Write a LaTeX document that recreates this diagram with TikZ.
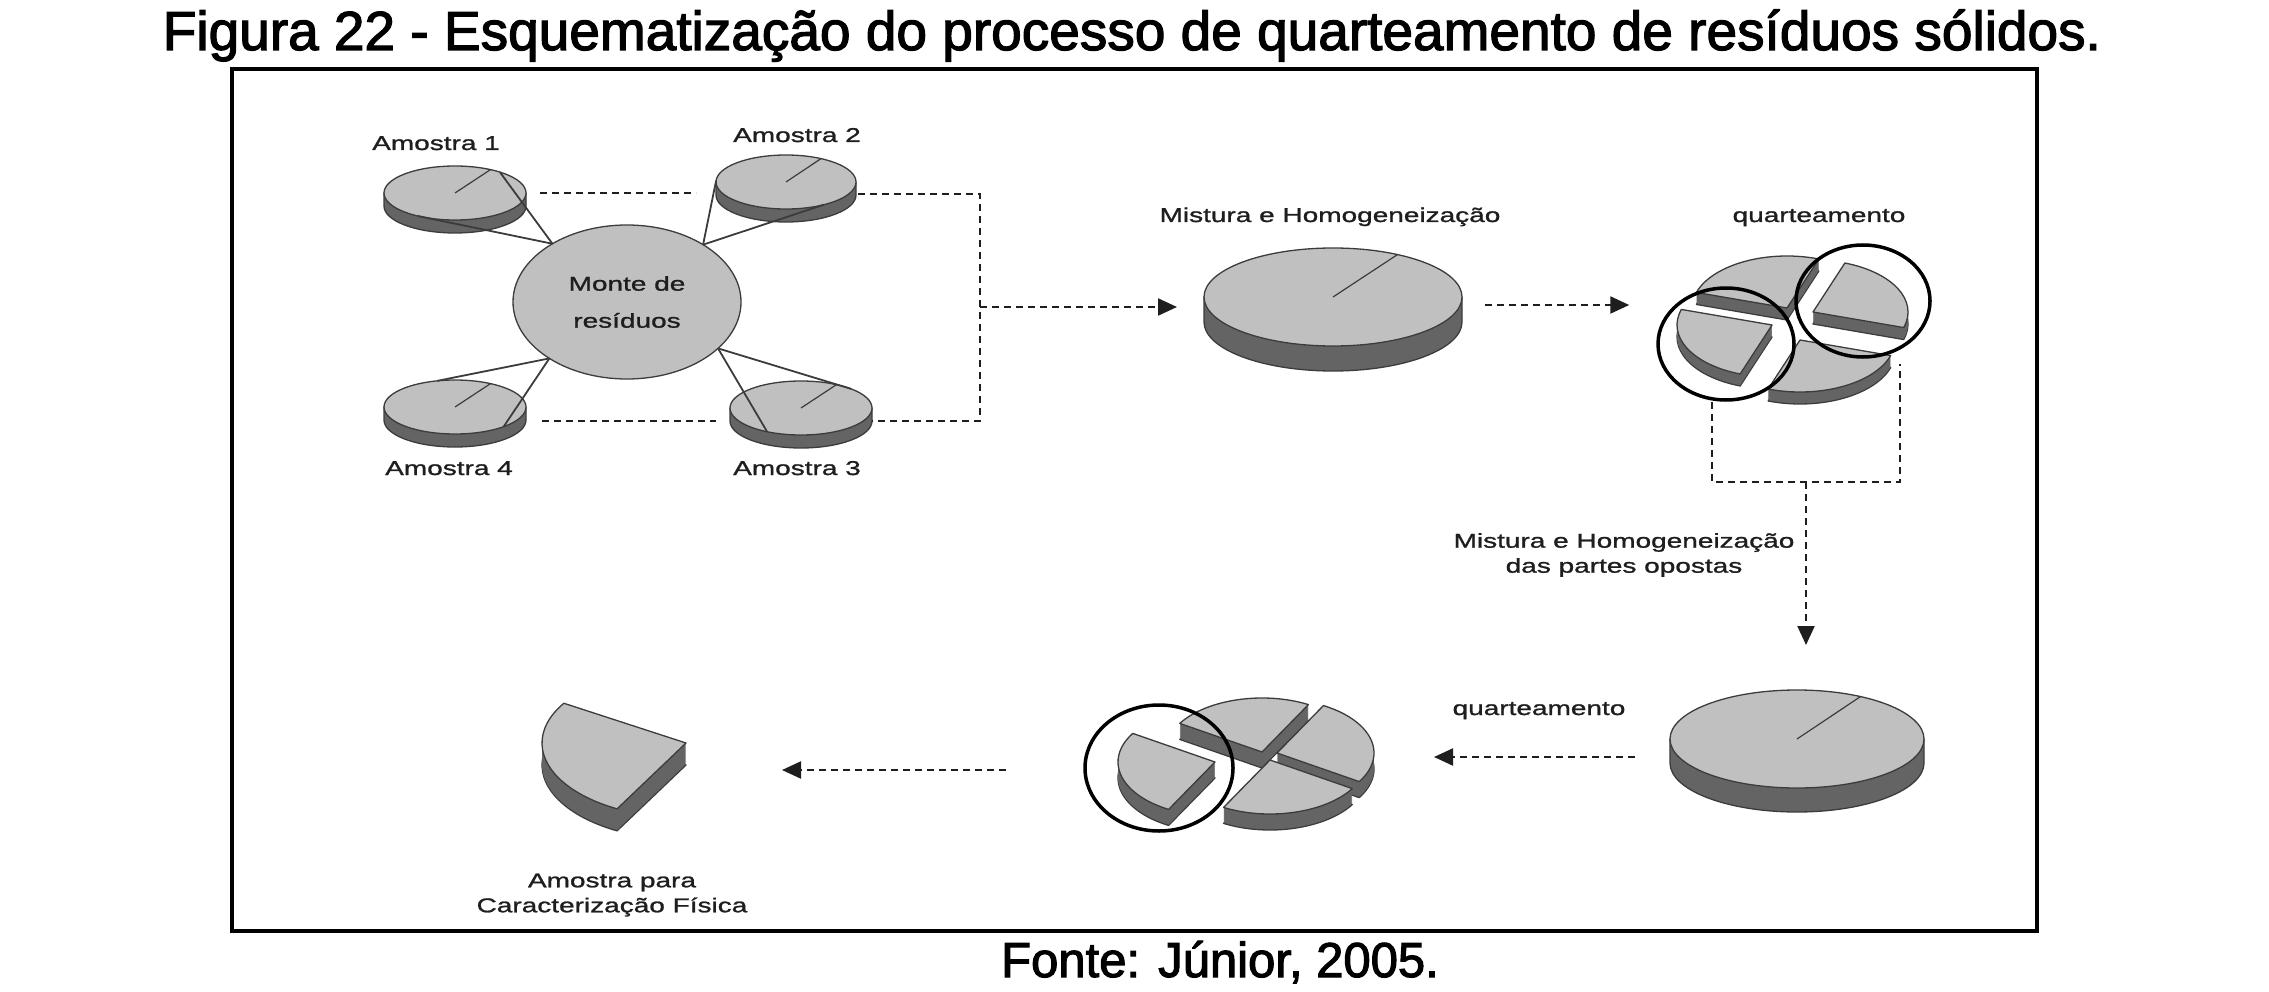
\documentclass[tikz,border=0pt]{standalone}
\usepackage{fontspec}
\setmainfont{Liberation Sans}
\newfontfamily\titlefont[FakeBold=2.2]{Liberation Sans}
\newfontfamily\diagfont[FakeStretch=1.4,FakeBold=1.2]{Liberation Sans}
\usetikzlibrary{shapes.geometric,calc,arrows.meta}

\definecolor{topgray}{RGB}{192,192,192}
\definecolor{sidegray}{RGB}{100,100,100}
\definecolor{edgegray}{RGB}{60,60,60}
\definecolor{inkgray}{RGB}{30,30,30}

\tikzset{
  disctop/.style={ellipse,fill=topgray,draw=edgegray,line width=1.3pt,inner sep=0pt,outer sep=0pt},
  topface/.style={fill=topgray,draw=edgegray,line width=1.3pt,line join=round},
  discside/.style={fill=sidegray,draw=edgegray,line width=1.3pt,line join=round},
  cone/.style={edgegray,line width=1.8pt},
  flow/.style={inkgray,line width=2.2pt,dash pattern=on 7pt off 5pt},
  flowarrow/.style={flow,-{Triangle[length=19pt,width=17pt]}},
  pick/.style={ellipse,draw=black,line width=3.5pt,inner sep=0pt},
  lbl/.style={font=\diagfont\fontsize{20}{25}\selectfont,text=inkgray,inner sep=0pt,anchor=base},
}

% cylinder: name, centre, x radius, y radius, depth
\newcommand\discpie[5]{%
  \coordinate (#1c) at (#2);
  \filldraw[discside] ($(#1c)+(-#3,0)$) -- ++(0,#5)
    arc[start angle=180,end angle=0,x radius=#3,y radius=#4] -- ++(0,-#5) -- cycle;
  \node[disctop,minimum width=2*#3,minimum height=2*#4] (#1) at (#1c) {};
  \draw[edgegray,line width=1.2pt] (#1c) -- ($(#1c)+(-60:#3 and #4)$);
}

% quarter of a pie: corner, start, end, x radius, y radius, depth
\newcommand\quarterpiece[6]{%
  \filldraw[discside] ($(#1)+(0,#6)$) -- ++(#2:#4 and #5)
    arc[start angle=#2,end angle=#3,x radius=#4,y radius=#5] -- cycle;
  \foreach \d in {1,...,#6}
    \fill[sidegray] ($(#1)+(0,{\d-1})$) -- ++(#2:#4 and #5)
      arc[start angle=#2,end angle=#3,x radius=#4,y radius=#5] -- cycle;
  \filldraw[topface] (#1) -- ++(#2:#4 and #5)
    arc[start angle=#2,end angle=#3,x radius=#4,y radius=#5] -- cycle;
}

\begin{document}
\begin{tikzpicture}[x=1pt,y=-1pt]
\useasboundingbox (0,0) rectangle (2269,992);

\node[anchor=base,inner sep=0pt,font=\titlefont\fontsize{55}{60}\selectfont] (title) at (1132,50)
  {Figura 22 - Esquematização do processo de quarteamento de resíduos sólidos.};
\draw[line width=4pt] (232,69) rectangle (2037,931);
\node[anchor=base,inner sep=0pt,font=\titlefont\fontsize{49}{55}\selectfont] (fonte) at (1220,977)
  {Fonte: Júnior, 2005.};

% samples round the heap
\discpie{d1}{455,193}{71}{27}{13}
\discpie{d2}{786,182}{70}{27}{13}
\discpie{d3}{801,408}{71}{27}{13}
\discpie{d4}{455,407}{71}{27}{13}
\node[disctop,minimum width=228,minimum height=154,align=center,text=inkgray,
  font=\diagfont\fontsize{20}{37}\selectfont] (monte) at (627,302) {Monte de\\resíduos};

\draw[cone] (monte.142) -- (d1.25);  \draw[cone] (monte.142) -- (d1.212);
\draw[cone] (monte.37) -- (d2.179);  \draw[cone] (monte.37) -- (d2.-31);
\draw[cone] (monte.-27) -- (d3.-145); \draw[cone] (monte.-27) -- (d3.21);
\draw[cone] (monte.216) -- (d4.124); \draw[cone] (monte.216) -- (d4.-22);

\node[lbl] (l1) at (436,150) {Amostra 1};
\node[lbl] (l2) at (797,142) {Amostra 2};
\node[lbl] (l3) at (797,475) {Amostra 3};
\node[lbl] (l4) at (449,475) {Amostra 4};

% mixed heaps
\discpie{mix1}{1333,297}{129}{49}{25}
\discpie{mix2}{1797,739}{127}{49}{24}
\node[lbl] (lmix1) at (1330,222) {Mistura e Homogeneização};

% first quartering
\quarterpiece{1787,308}{197.4}{289.6}{95}{52}{12}
\quarterpiece{1813,312}{289.6}{377.4}{95}{52}{12}
\quarterpiece{1800,340}{17.4}{109.6}{95}{52}{12}
\quarterpiece{1772,325}{109.6}{197.4}{95}{52}{12}
\node[pick,minimum width=136,minimum height=112] (sel1) at (1726,344) {};
\node[pick,minimum width=134,minimum height=112] (sel2) at (1863,301) {};
\node[lbl] (lq1) at (1819,222) {quarteamento};

% second quartering
\quarterpiece{1262,752}{212}{298.6}{97}{54}{16}
\quarterpiece{1277,753}{298.6}{392}{97}{54}{16}
\quarterpiece{1215,762}{118.6}{212}{97}{54}{16}
\quarterpiece{1270,760}{32}{118.6}{97}{54}{16}
\node[pick,minimum width=148,minimum height=126] (sel3) at (1159,768) {};
\node[lbl] (lq2) at (1539,715) {quarteamento};

% final sample
\quarterpiece{686,743}{118.6}{212}{144}{75}{22}
\node[lbl,anchor=center,align=center] (lfinal) at (612,895) {Amostra para\\Caracterização Física};

% flows
\coordinate (jt) at (980,194);
\coordinate (jm) at (980,307);
\coordinate (jb) at (980,421);
\draw[flow] ($(d1.east)+(14,0)$) -- ($(d2.west |- d1.east)+(-20,0)$);
\draw[flow] ($(d2.east |- jt)+(2,0)$) -- (jt) -- (jb) -- (d3.east |- jb);
\draw[flow] ($(d4.east |- jb)+(16,0)$) -- ($(d3.west |- jb)+(-14,0)$);
\draw[flowarrow] (jm) -- ($(mix1.west |- jm)+(-27,0)$);
\draw[flowarrow] ($(mix1.east)+(23,8)$) -- ($(sel1.west |- mix1.east)+(-27,8)$);

\coordinate (bl) at (1712,482);
\coordinate (br) at (1900,482);
\coordinate (bm) at (1806,482);
\draw[flow] (bl |- sel1.south) -- (bl) -- (br) -- ($(br |- sel2.south)+(0,5)$);
\draw[flowarrow] (bm) -- ($(bm |- mix2.north)+(0,-45)$);
\node[lbl,anchor=center,align=center] (lmix2) at (1624,555) {Mistura e Homogeneização\\das partes opostas};

\coordinate (qa) at (1434,757);
\draw[flowarrow] ($(mix2.west)+(-35,18)$) -- (qa);
\coordinate (fa) at (782,770);
\draw[flowarrow] ($(sel3.west)+(-77,2)$) -- (fa);
\end{tikzpicture}
\end{document}
